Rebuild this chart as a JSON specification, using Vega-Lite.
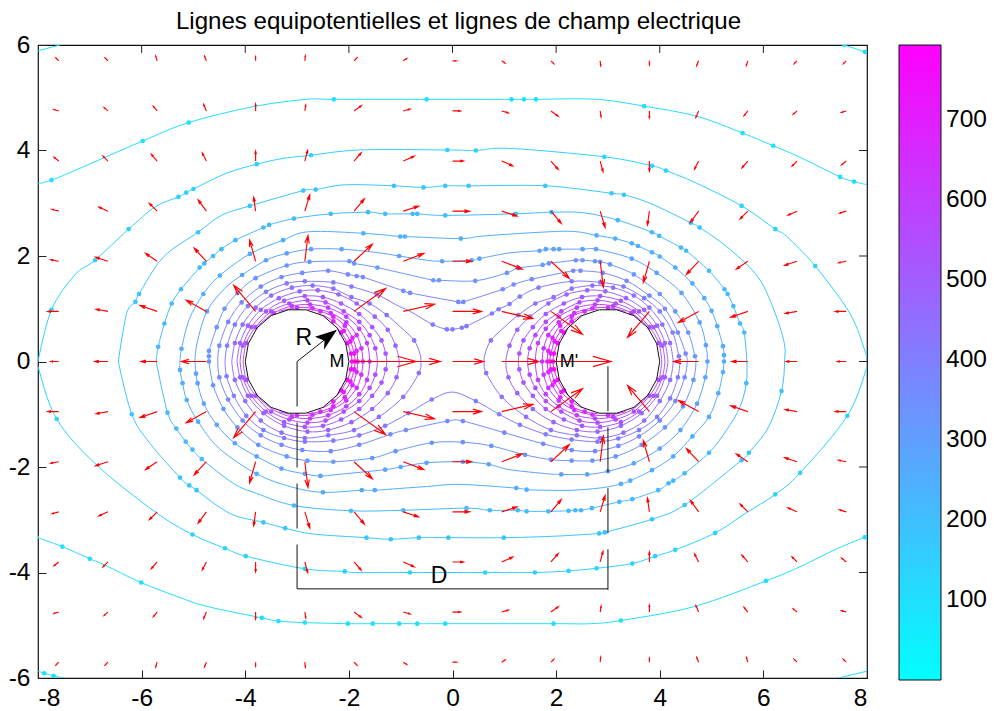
{"$schema":"https://vega.github.io/schema/vega-lite/v6.json","background":"white","width":829,"height":633,"autosize":"none","padding":{"left":38,"top":45,"right":127,"bottom":33},
"config":{"font":"Liberation Sans","view":{"stroke":"#111111","strokeWidth":1.2},"axis":{"labelFont":"Liberation Sans","labelFontSize":24.5,"labelColor":"black","tickColor":"#222222","tickSize":-8,"domain":false,"grid":false,"title":null,"labelPadding":16}},
"title":{"text":"Lignes equipotentielles et lignes de champ electrique","font":"Liberation Sans","fontSize":24.1,"fontWeight":"normal","color":"black","offset":-2,"dx":6,"anchor":"middle"},
"datasets":{
"contours":[
{"v":100,"x":-8.03,"y":3.36},{"v":100,"x":-7.74,"y":3.44,"d":1},{"v":100,"x":-7.29,"y":3.62},{"v":100,"x":-5.98,"y":4.18,"d":1},{"v":100,"x":-5.09,"y":4.53,"d":1},{"v":100,"x":-3.85,"y":4.83},{"v":100,"x":-2.82,"y":4.97},{"v":100,"x":-2.29,"y":4.97,"d":1},{"v":100,"x":-0.5,"y":4.97,"d":1},{"v":100,"x":1.14,"y":4.97,"d":1},{"v":100,"x":1.38,"y":4.97,"d":1},{"v":100,"x":1.61,"y":4.97,"d":1},{"v":100,"x":2.78,"y":4.97},{"v":100,"x":3.7,"y":4.84,"d":1},{"v":100,"x":4.71,"y":4.65},{"v":100,"x":5.6,"y":4.33,"d":1},{"v":100,"x":6.19,"y":4.09,"d":1},{"v":100,"x":6.71,"y":3.87},{"v":100,"x":7.48,"y":3.5,"d":1},{"v":100,"x":7.75,"y":3.41,"d":1},{"v":100,"x":8.01,"y":3.35},
{"v":100.1,"x":-8.03,"y":-3.33,"d":1},{"v":100.1,"x":-7.53,"y":-3.51,"d":1},{"v":100.1,"x":-7,"y":-3.74,"d":1},{"v":100.1,"x":-6.71,"y":-3.86},{"v":100.1,"x":-6.01,"y":-4.19,"d":1},{"v":100.1,"x":-5.33,"y":-4.45},{"v":100.1,"x":-4.75,"y":-4.64},{"v":100.1,"x":-3.68,"y":-4.86,"d":1},{"v":100.1,"x":-3.36,"y":-4.92,"d":1},{"v":100.1,"x":-2.85,"y":-4.95,"d":1},{"v":100.1,"x":-2.02,"y":-4.97,"d":1},{"v":100.1,"x":-1.54,"y":-4.97,"d":1},{"v":100.1,"x":-1.03,"y":-4.97,"d":1},{"v":100.1,"x":-0.68,"y":-4.97,"d":1},{"v":100.1,"x":-0.14,"y":-4.97,"d":1},{"v":100.1,"x":1.95,"y":-4.97,"d":1},{"v":100.1,"x":2.66,"y":-4.97},{"v":100.1,"x":3.25,"y":-4.91,"d":1},{"v":100.1,"x":4.65,"y":-4.65},{"v":100.1,"x":6.05,"y":-4.16,"d":1},{"v":100.1,"x":6.71,"y":-3.89},{"v":100.1,"x":7.42,"y":-3.55},{"v":100.1,"x":7.96,"y":-3.33,"d":1},
{"v":100.2,"x":-8,"y":5.89},{"v":100.2,"x":-7.58,"y":6},
{"v":100.3,"x":7.56,"y":6,"d":1},{"v":100.3,"x":7.96,"y":5.87,"d":1},
{"v":100.4,"x":-8,"y":-5.87},{"v":100.4,"x":-7.88,"y":-5.91,"d":1},{"v":100.4,"x":-7.7,"y":-5.96,"d":1},{"v":100.4,"x":-7.5,"y":-6},
{"v":100.5,"x":7.45,"y":-6},{"v":100.5,"x":8,"y":-5.87},
{"v":138,"x":-8,"y":0},{"v":138,"x":-7.74,"y":0.98,"d":1},{"v":138,"x":-7.29,"y":1.64},{"v":138,"x":-6.9,"y":1.92,"d":1},{"v":138,"x":-6.25,"y":2.51,"d":1},{"v":138,"x":-5.74,"y":2.93},{"v":138,"x":-5.29,"y":3.12,"d":1},{"v":138,"x":-5.14,"y":3.2,"d":1},{"v":138,"x":-5,"y":3.27,"d":1},{"v":138,"x":-4.36,"y":3.57},{"v":138,"x":-3.78,"y":3.74,"d":1},{"v":138,"x":-3.27,"y":3.85},{"v":138,"x":-2.73,"y":3.91,"d":1},{"v":138,"x":-1.79,"y":4.01},{"v":138,"x":-0.1,"y":4.01,"d":1},{"v":138,"x":0.45,"y":4,"d":1},{"v":138,"x":1.11,"y":4.04},{"v":138,"x":2.93,"y":3.88,"d":1},{"v":138,"x":3.85,"y":3.71,"d":1},{"v":138,"x":4.12,"y":3.62,"d":1},{"v":138,"x":4.71,"y":3.38},{"v":138,"x":5.58,"y":2.95,"d":1},{"v":138,"x":6.23,"y":2.51,"d":1},{"v":138,"x":6.45,"y":2.37},{"v":138,"x":7,"y":1.81,"d":1},{"v":138,"x":7.67,"y":0.91},{"v":138,"x":7.96,"y":0.2},{"v":138,"x":8,"y":0},{"v":138,"x":8,"y":-0.1},{"v":138,"x":7.62,"y":-1.03,"d":1},{"v":138,"x":6.71,"y":-2.11,"d":1},{"v":138,"x":6.23,"y":-2.52,"d":1},{"v":138,"x":5.65,"y":-2.88},{"v":138,"x":5.07,"y":-3.25,"d":1},{"v":138,"x":4.3,"y":-3.57,"d":1},{"v":138,"x":3.91,"y":-3.69,"d":1},{"v":138,"x":3.47,"y":-3.83,"d":1},{"v":138,"x":2.78,"y":-3.92,"d":1},{"v":138,"x":2.24,"y":-3.97,"d":1},{"v":138,"x":1.59,"y":-4,"d":1},{"v":138,"x":0.63,"y":-4,"d":1},{"v":138,"x":-0.82,"y":-4,"d":1},{"v":138,"x":-1.88,"y":-4},{"v":138,"x":-2.08,"y":-3.98,"d":1},{"v":138,"x":-2.85,"y":-3.93,"d":1},{"v":138,"x":-3.99,"y":-3.69,"d":1},{"v":138,"x":-4.39,"y":-3.54,"d":1},{"v":138,"x":-5.02,"y":-3.28,"d":1},{"v":138,"x":-5.74,"y":-2.85},{"v":138,"x":-6.87,"y":-1.96},{"v":138,"x":-7.64,"y":-1.09,"d":1},{"v":138,"x":-8,"y":-0.1},{"v":138,"x":-8,"y":0},
{"v":176,"x":-6.45,"y":0},{"v":176,"x":-6.29,"y":0.91},{"v":176,"x":-6.12,"y":1.13,"d":1},{"v":176,"x":-6.05,"y":1.28,"d":1},{"v":176,"x":-5.58,"y":1.98},{"v":176,"x":-4.91,"y":2.45,"d":1},{"v":176,"x":-4.46,"y":2.77},{"v":176,"x":-3.91,"y":2.95,"d":1},{"v":176,"x":-2.88,"y":3.24,"d":1},{"v":176,"x":-2.64,"y":3.26,"d":1},{"v":176,"x":-2.07,"y":3.35},{"v":176,"x":-1.13,"y":3.33,"d":1},{"v":176,"x":-0.56,"y":3.3,"d":1},{"v":176,"x":-0.14,"y":3.33,"d":1},{"v":176,"x":0.31,"y":3.33,"d":1},{"v":176,"x":1.79,"y":3.33,"d":1},{"v":176,"x":3.07,"y":3.19,"d":1},{"v":176,"x":3.31,"y":3.16,"d":1},{"v":176,"x":3.81,"y":3},{"v":176,"x":4.6,"y":2.63,"d":1},{"v":176,"x":4.77,"y":2.54,"d":1},{"v":176,"x":5.29,"y":2.18},{"v":176,"x":5.84,"y":1.67},{"v":176,"x":6.13,"y":1.16},{"v":176,"x":6.39,"y":0.41},{"v":176,"x":6.41,"y":0},{"v":176,"x":6.35,"y":-0.56,"d":1},{"v":176,"x":6.1,"y":-1.24},{"v":176,"x":5.72,"y":-1.73,"d":1},{"v":176,"x":5.58,"y":-1.87,"d":1},{"v":176,"x":4.48,"y":-2.72,"d":1},{"v":176,"x":3.85,"y":-2.99,"d":1},{"v":176,"x":2.94,"y":-3.24,"d":1},{"v":176,"x":2.83,"y":-3.26,"d":1},{"v":176,"x":2.01,"y":-3.31},{"v":176,"x":0.99,"y":-3.34,"d":1},{"v":176,"x":-0.08,"y":-3.34,"d":1},{"v":176,"x":-0.65,"y":-3.34,"d":1},{"v":176,"x":-1.19,"y":-3.37,"d":1},{"v":176,"x":-1.66,"y":-3.34,"d":1},{"v":176,"x":-2.69,"y":-3.27},{"v":176,"x":-3.23,"y":-3.16,"d":1},{"v":176,"x":-3.65,"y":-3.05,"d":1},{"v":176,"x":-4.3,"y":-2.88},{"v":176,"x":-4.94,"y":-2.44,"d":1},{"v":176,"x":-5.08,"y":-2.35,"d":1},{"v":176,"x":-5.26,"y":-2.2,"d":1},{"v":176,"x":-5.84,"y":-1.55},{"v":176,"x":-6.19,"y":-1,"d":1},{"v":176,"x":-6.45,"y":0},
{"v":214,"x":-5.72,"y":0},{"v":214,"x":-5.68,"y":0.28,"d":1},{"v":214,"x":-5.56,"y":0.72,"d":1},{"v":214,"x":-5.42,"y":1.1,"d":1},{"v":214,"x":-5.24,"y":1.37,"d":1},{"v":214,"x":-4.88,"y":1.78,"d":1},{"v":214,"x":-4.79,"y":1.86,"d":1},{"v":214,"x":-4.62,"y":2,"d":1},{"v":214,"x":-4.46,"y":2.13,"d":1},{"v":214,"x":-4.19,"y":2.3,"d":1},{"v":214,"x":-3.65,"y":2.54,"d":1},{"v":214,"x":-3.54,"y":2.59,"d":1},{"v":214,"x":-3.06,"y":2.71,"d":1},{"v":214,"x":-2.35,"y":2.8,"d":1},{"v":214,"x":-1.63,"y":2.83,"d":1},{"v":214,"x":-1.3,"y":2.8,"d":1},{"v":214,"x":-0.77,"y":2.8,"d":1},{"v":214,"x":-0.68,"y":2.8,"d":1},{"v":214,"x":-0.14,"y":2.77,"d":1},{"v":214,"x":1.22,"y":2.8,"d":1},{"v":214,"x":1.91,"y":2.83,"d":1},{"v":214,"x":2.53,"y":2.82},{"v":214,"x":3.19,"y":2.68,"d":1},{"v":214,"x":3.85,"y":2.45,"d":1},{"v":214,"x":3.99,"y":2.38,"d":1},{"v":214,"x":4.41,"y":2.16,"d":1},{"v":214,"x":4.51,"y":2.1,"d":1},{"v":214,"x":4.95,"y":1.72,"d":1},{"v":214,"x":5.25,"y":1.37,"d":1},{"v":214,"x":5.31,"y":1.28,"d":1},{"v":214,"x":5.42,"y":1.05,"d":1},{"v":214,"x":5.55,"y":0.72,"d":1},{"v":214,"x":5.63,"y":0.55,"d":1},{"v":214,"x":5.68,"y":0},{"v":214,"x":5.67,"y":-0.41,"d":1},{"v":214,"x":5.55,"y":-0.86},{"v":214,"x":5.29,"y":-1.3},{"v":214,"x":4.95,"y":-1.73,"d":1},{"v":214,"x":4.48,"y":-2.12,"d":1},{"v":214,"x":4.26,"y":-2.26,"d":1},{"v":214,"x":4.17,"y":-2.31,"d":1},{"v":214,"x":3.97,"y":-2.44,"d":1},{"v":214,"x":3.47,"y":-2.61,"d":1},{"v":214,"x":3.22,"y":-2.66,"d":1},{"v":214,"x":2.69,"y":-2.78,"d":1},{"v":214,"x":2.48,"y":-2.82,"d":1},{"v":214,"x":2.37,"y":-2.82,"d":1},{"v":214,"x":2.24,"y":-2.83,"d":1},{"v":214,"x":1.85,"y":-2.84,"d":1},{"v":214,"x":1.43,"y":-2.84,"d":1},{"v":214,"x":1.26,"y":-2.82,"d":1},{"v":214,"x":0.72,"y":-2.82,"d":1},{"v":214,"x":0.27,"y":-2.78,"d":1},{"v":214,"x":-0.95,"y":-2.82,"d":1},{"v":214,"x":-1.96,"y":-2.83,"d":1},{"v":214,"x":-3.06,"y":-2.73,"d":1},{"v":214,"x":-3.78,"y":-2.5},{"v":214,"x":-4.23,"y":-2.31},{"v":214,"x":-4.84,"y":-1.85,"d":1},{"v":214,"x":-5.02,"y":-1.67,"d":1},{"v":214,"x":-5.15,"y":-1.52,"d":1},{"v":214,"x":-5.33,"y":-1.27,"d":1},{"v":214,"x":-5.5,"y":-0.97,"d":1},{"v":214,"x":-5.72,"y":0},
{"v":252,"x":-5.26,"y":0},{"v":252,"x":-5.23,"y":0.24,"d":1},{"v":252,"x":-5.08,"y":0.8},{"v":252,"x":-4.81,"y":1.28,"d":1},{"v":252,"x":-4.49,"y":1.63,"d":1},{"v":252,"x":-3.91,"y":2.04,"d":1},{"v":252,"x":-3.27,"y":2.3,"d":1},{"v":252,"x":-2.78,"y":2.46},{"v":252,"x":-1.72,"y":2.43,"d":1},{"v":252,"x":-1.01,"y":2.37,"d":1},{"v":252,"x":-0.92,"y":2.37,"d":1},{"v":252,"x":0.16,"y":2.33,"d":1},{"v":252,"x":0.6,"y":2.38},{"v":252,"x":1.88,"y":2.46},{"v":252,"x":2.4,"y":2.46},{"v":252,"x":2.78,"y":2.39,"d":1},{"v":252,"x":3.14,"y":2.33,"d":1},{"v":252,"x":3.46,"y":2.24,"d":1},{"v":252,"x":3.58,"y":2.19,"d":1},{"v":252,"x":3.85,"y":2.07,"d":1},{"v":252,"x":4,"y":1.99,"d":1},{"v":252,"x":4.3,"y":1.78,"d":1},{"v":252,"x":4.63,"y":1.48,"d":1},{"v":252,"x":4.86,"y":1.2,"d":1},{"v":252,"x":5,"y":0.96,"d":1},{"v":252,"x":5.11,"y":0.67,"d":1},{"v":252,"x":5.22,"y":0.29,"d":1},{"v":252,"x":5.24,"y":0.12,"d":1},{"v":252,"x":5.24,"y":0,"d":1},{"v":252,"x":5.22,"y":-0.2,"d":1},{"v":252,"x":5.13,"y":-0.6,"d":1},{"v":252,"x":4.95,"y":-1.05,"d":1},{"v":252,"x":4.63,"y":-1.42,"d":1},{"v":252,"x":4.26,"y":-1.8,"d":1},{"v":252,"x":3.85,"y":-2.06,"d":1},{"v":252,"x":3.43,"y":-2.26,"d":1},{"v":252,"x":3.25,"y":-2.32,"d":1},{"v":252,"x":2.91,"y":-2.39},{"v":252,"x":2.33,"y":-2.44},{"v":252,"x":1.82,"y":-2.44},{"v":252,"x":1.43,"y":-2.43,"d":1},{"v":252,"x":1.23,"y":-2.4,"d":1},{"v":252,"x":0.14,"y":-2.33},{"v":252,"x":-0.5,"y":-2.37},{"v":252,"x":-1.5,"y":-2.44,"d":1},{"v":252,"x":-1.75,"y":-2.44,"d":1},{"v":252,"x":-2.5,"y":-2.48,"d":1},{"v":252,"x":-3.1,"y":-2.38},{"v":252,"x":-3.78,"y":-2.13,"d":1},{"v":252,"x":-4.5,"y":-1.65},{"v":252,"x":-4.91,"y":-1.14,"d":1},{"v":252,"x":-5.13,"y":-0.73,"d":1},{"v":252,"x":-5.21,"y":-0.41,"d":1},{"v":252,"x":-5.26,"y":-0.16,"d":1},{"v":252,"x":-5.26,"y":0},
{"v":290,"x":-4.97,"y":0},{"v":290,"x":-4.93,"y":0.35},{"v":290,"x":-4.74,"y":0.95,"d":1},{"v":290,"x":-4.4,"y":1.38},{"v":290,"x":-4.06,"y":1.64,"d":1},{"v":290,"x":-3.6,"y":1.92,"d":1},{"v":290,"x":-3.2,"y":2.05,"d":1},{"v":290,"x":-2.73,"y":2.13,"d":1},{"v":290,"x":-2.14,"y":2.13,"d":1},{"v":290,"x":-1.5,"y":2.07},{"v":290,"x":-1.03,"y":2,"d":1},{"v":290,"x":-0.5,"y":1.92},{"v":290,"x":-0.2,"y":1.9,"d":1},{"v":290,"x":0.37,"y":1.92,"d":1},{"v":290,"x":0.52,"y":1.95,"d":1},{"v":290,"x":1.11,"y":2.06},{"v":290,"x":1.68,"y":2.1,"d":1},{"v":290,"x":1.8,"y":2.13,"d":1},{"v":290,"x":1.95,"y":2.13,"d":1},{"v":290,"x":2.06,"y":2.13,"d":1},{"v":290,"x":2.51,"y":2.13,"d":1},{"v":290,"x":2.77,"y":2.13,"d":1},{"v":290,"x":3.46,"y":1.95,"d":1},{"v":290,"x":3.94,"y":1.68,"d":1},{"v":290,"x":4.42,"y":1.3,"d":1},{"v":290,"x":4.77,"y":0.74,"d":1},{"v":290,"x":4.89,"y":0.31,"d":1},{"v":290,"x":4.92,"y":0,"d":1},{"v":290,"x":4.88,"y":-0.3,"d":1},{"v":290,"x":4.72,"y":-0.8,"d":1},{"v":290,"x":4.4,"y":-1.3,"d":1},{"v":290,"x":4,"y":-1.65,"d":1},{"v":290,"x":3.5,"y":-1.93,"d":1},{"v":290,"x":3,"y":-2.08,"d":1},{"v":290,"x":2.6,"y":-2.14,"d":1},{"v":290,"x":2.1,"y":-2.14,"d":1},{"v":290,"x":1.85,"y":-2.13},{"v":290,"x":1.1,"y":-2.05},{"v":290,"x":0.7,"y":-1.95,"d":1},{"v":290,"x":0.2,"y":-1.9,"d":1},{"v":290,"x":-0.5,"y":-1.92,"d":1},{"v":290,"x":-1,"y":-2,"d":1},{"v":290,"x":-1.3,"y":-2.05,"d":1},{"v":290,"x":-2.2,"y":-2.14},{"v":290,"x":-2.55,"y":-2.17,"d":1},{"v":290,"x":-2.85,"y":-2.13,"d":1},{"v":290,"x":-3.3,"y":-2.03,"d":1},{"v":290,"x":-3.78,"y":-1.8,"d":1},{"v":290,"x":-4.2,"y":-1.55,"d":1},{"v":290,"x":-4.55,"y":-1.2,"d":1},{"v":290,"x":-4.8,"y":-0.8,"d":1},{"v":290,"x":-4.92,"y":-0.41,"d":1},{"v":290,"x":-4.95,"y":-0.23,"d":1},{"v":290,"x":-4.97,"y":0},
{"v":328,"x":-4.7,"y":0,"d":1},{"v":328,"x":-4.7,"y":0.1,"d":1},{"v":328,"x":-4.7,"y":0.2,"d":1},{"v":328,"x":-4.55,"y":0.65,"d":1},{"v":328,"x":-4.4,"y":1,"d":1},{"v":328,"x":-4.15,"y":1.3,"d":1},{"v":328,"x":-3.8,"y":1.58,"d":1},{"v":328,"x":-3.2,"y":1.82,"d":1},{"v":328,"x":-2.76,"y":1.89,"d":1},{"v":328,"x":-1.99,"y":1.9,"d":1},{"v":328,"x":-1.9,"y":1.86,"d":1},{"v":328,"x":-1.45,"y":1.78,"d":1},{"v":328,"x":-0.37,"y":1.54,"d":1},{"v":328,"x":-0.26,"y":1.54,"d":1},{"v":328,"x":0.44,"y":1.53,"d":1},{"v":328,"x":1.05,"y":1.68,"d":1},{"v":328,"x":1.27,"y":1.77,"d":1},{"v":328,"x":1.74,"y":1.83,"d":1},{"v":328,"x":1.86,"y":1.86,"d":1},{"v":328,"x":2.38,"y":1.92,"d":1},{"v":328,"x":2.51,"y":1.92,"d":1},{"v":328,"x":2.75,"y":1.9,"d":1},{"v":328,"x":2.85,"y":1.89,"d":1},{"v":328,"x":3.04,"y":1.84,"d":1},{"v":328,"x":3.5,"y":1.65,"d":1},{"v":328,"x":4,"y":1.28,"d":1},{"v":328,"x":4.3,"y":0.95,"d":1},{"v":328,"x":4.55,"y":0.55,"d":1},{"v":328,"x":4.68,"y":0.1,"d":1},{"v":328,"x":4.7,"y":0},{"v":328,"x":4.65,"y":-0.35,"d":1},{"v":328,"x":4.45,"y":-0.85,"d":1},{"v":328,"x":4.1,"y":-1.25,"d":1},{"v":328,"x":3.65,"y":-1.58,"d":1},{"v":328,"x":3.15,"y":-1.8,"d":1},{"v":328,"x":2.7,"y":-1.88,"d":1},{"v":328,"x":2.3,"y":-1.88,"d":1},{"v":328,"x":1.9,"y":-1.86,"d":1},{"v":328,"x":1.4,"y":-1.77,"d":1},{"v":328,"x":0.75,"y":-1.6,"d":1},{"v":328,"x":0.2,"y":-1.53,"d":1},{"v":328,"x":-0.4,"y":-1.54,"d":1},{"v":328,"x":-1.1,"y":-1.7,"d":1},{"v":328,"x":-1.55,"y":-1.83,"d":1},{"v":328,"x":-2.3,"y":-1.9,"d":1},{"v":328,"x":-2.8,"y":-1.88,"d":1},{"v":328,"x":-3.2,"y":-1.8,"d":1},{"v":328,"x":-3.75,"y":-1.58,"d":1},{"v":328,"x":-4.15,"y":-1.25,"d":1},{"v":328,"x":-4.42,"y":-0.9,"d":1},{"v":328,"x":-4.62,"y":-0.45,"d":1},{"v":328,"x":-4.7,"y":0},
{"v":366,"x":-4.53,"y":0},{"v":366,"x":-4.5,"y":0.3,"d":1},{"v":366,"x":-4.33,"y":0.75,"d":1},{"v":366,"x":-4.07,"y":1.12,"d":1},{"v":366,"x":-3.7,"y":1.42,"d":1},{"v":366,"x":-3.3,"y":1.6,"d":1},{"v":366,"x":-2.9,"y":1.68,"d":1},{"v":366,"x":-2.4,"y":1.72,"d":1},{"v":366,"x":-2.02,"y":1.65,"d":1},{"v":366,"x":-1.85,"y":1.62,"d":1},{"v":366,"x":-1.73,"y":1.6,"d":1},{"v":366,"x":-0.95,"y":1.34,"d":1},{"v":366,"x":-0.82,"y":1.3,"d":1},{"v":366,"x":0.11,"y":1.13,"d":1},{"v":366,"x":0.21,"y":1.13,"d":1},{"v":366,"x":0.97,"y":1.37,"d":1},{"v":366,"x":1.18,"y":1.46,"d":1},{"v":366,"x":1.53,"y":1.56,"d":1},{"v":366,"x":2.33,"y":1.72,"d":1},{"v":366,"x":2.47,"y":1.72,"d":1},{"v":366,"x":2.9,"y":1.68,"d":1},{"v":366,"x":3.36,"y":1.53,"d":1},{"v":366,"x":3.8,"y":1.25,"d":1},{"v":366,"x":4.1,"y":1,"d":1},{"v":366,"x":4.35,"y":0.55,"d":1},{"v":366,"x":4.5,"y":0.15,"d":1},{"v":366,"x":4.53,"y":0},{"v":366,"x":4.48,"y":-0.3,"d":1},{"v":366,"x":4.3,"y":-0.75,"d":1},{"v":366,"x":4,"y":-1.12,"d":1},{"v":366,"x":3.6,"y":-1.42,"d":1},{"v":366,"x":3.2,"y":-1.6,"d":1},{"v":366,"x":2.75,"y":-1.7,"d":1},{"v":366,"x":2.3,"y":-1.68,"d":1},{"v":366,"x":1.75,"y":-1.56,"d":1},{"v":366,"x":1,"y":-1.35,"d":1},{"v":366,"x":0.2,"y":-1.13,"d":1},{"v":366,"x":-0.1,"y":-1.13,"d":1},{"v":366,"x":-0.9,"y":-1.3,"d":1},{"v":366,"x":-1.2,"y":-1.38,"d":1},{"v":366,"x":-1.8,"y":-1.58,"d":1},{"v":366,"x":-2.35,"y":-1.7,"d":1},{"v":366,"x":-2.9,"y":-1.68,"d":1},{"v":366,"x":-3.3,"y":-1.58,"d":1},{"v":366,"x":-3.7,"y":-1.4,"d":1},{"v":366,"x":-4.05,"y":-1.12,"d":1},{"v":366,"x":-4.33,"y":-0.72,"d":1},{"v":366,"x":-4.5,"y":-0.3,"d":1},{"v":366,"x":-4.53,"y":0},
{"v":404,"x":-4.39,"y":0},{"v":404,"x":-4.35,"y":0.3,"d":1},{"v":404,"x":-4.2,"y":0.7,"d":1},{"v":404,"x":-3.95,"y":1.05,"d":1},{"v":404,"x":-3.6,"y":1.32,"d":1},{"v":404,"x":-3.2,"y":1.48,"d":1},{"v":404,"x":-2.85,"y":1.52,"d":1},{"v":404,"x":-2.3,"y":1.5,"d":1},{"v":404,"x":-1.95,"y":1.42,"d":1},{"v":404,"x":-1.46,"y":1.27,"d":1},{"v":404,"x":-1.1,"y":1.08},{"v":404,"x":-0.82,"y":0.95},{"v":404,"x":-0.38,"y":0.7,"d":1},{"v":404,"x":-0.11,"y":0.61,"d":1},{"v":404,"x":0,"y":0.61,"d":1},{"v":404,"x":0.18,"y":0.64,"d":1},{"v":404,"x":0.27,"y":0.67,"d":1},{"v":404,"x":0.76,"y":0.91,"d":1},{"v":404,"x":0.89,"y":0.99,"d":1},{"v":404,"x":1.1,"y":1.09,"d":1},{"v":404,"x":1.3,"y":1.23,"d":1},{"v":404,"x":1.66,"y":1.4,"d":1},{"v":404,"x":2.3,"y":1.52,"d":1},{"v":404,"x":2.85,"y":1.5,"d":1},{"v":404,"x":3.3,"y":1.42,"d":1},{"v":404,"x":3.7,"y":1.2,"d":1},{"v":404,"x":4,"y":0.95,"d":1},{"v":404,"x":4.25,"y":0.55,"d":1},{"v":404,"x":4.37,"y":0.1,"d":1},{"v":404,"x":4.39,"y":0},{"v":404,"x":4.35,"y":-0.3,"d":1},{"v":404,"x":4.2,"y":-0.7,"d":1},{"v":404,"x":3.95,"y":-1.05,"d":1},{"v":404,"x":3.6,"y":-1.3,"d":1},{"v":404,"x":3.2,"y":-1.46,"d":1},{"v":404,"x":2.8,"y":-1.52,"d":1},{"v":404,"x":2.3,"y":-1.48,"d":1},{"v":404,"x":1.8,"y":-1.38,"d":1},{"v":404,"x":1.3,"y":-1.2,"d":1},{"v":404,"x":0.9,"y":-1,"d":1},{"v":404,"x":0.45,"y":-0.75,"d":1},{"v":404,"x":0,"y":-0.58},{"v":404,"x":-0.4,"y":-0.72,"d":1},{"v":404,"x":-0.85,"y":-0.98,"d":1},{"v":404,"x":-1.3,"y":-1.22,"d":1},{"v":404,"x":-1.8,"y":-1.4,"d":1},{"v":404,"x":-2.3,"y":-1.5,"d":1},{"v":404,"x":-2.85,"y":-1.52,"d":1},{"v":404,"x":-3.25,"y":-1.45,"d":1},{"v":404,"x":-3.65,"y":-1.3,"d":1},{"v":404,"x":-3.98,"y":-1.03,"d":1},{"v":404,"x":-4.22,"y":-0.65,"d":1},{"v":404,"x":-4.36,"y":-0.28,"d":1},{"v":404,"x":-4.39,"y":0},
{"v":442,"x":-4.26,"y":0},{"v":442,"x":-4.2,"y":0.35,"d":1},{"v":442,"x":-4.05,"y":0.7,"d":1},{"v":442,"x":-3.8,"y":1.02,"d":1},{"v":442,"x":-3.5,"y":1.25,"d":1},{"v":442,"x":-3.1,"y":1.4,"d":1},{"v":442,"x":-2.7,"y":1.44,"d":1},{"v":442,"x":-2.3,"y":1.38,"d":1},{"v":442,"x":-1.95,"y":1.22,"d":1},{"v":442,"x":-1.6,"y":1.1,"d":1},{"v":442,"x":-1.27,"y":0.88,"d":1},{"v":442,"x":-1,"y":0.65},{"v":442,"x":-0.74,"y":0.4,"d":1},{"v":442,"x":-0.63,"y":0.15},{"v":442,"x":-0.61,"y":0},{"v":442,"x":-0.65,"y":-0.22,"d":1},{"v":442,"x":-0.95,"y":-0.67,"d":1},{"v":442,"x":-1.42,"y":-1.05,"d":1},{"v":442,"x":-1.9,"y":-1.3,"d":1},{"v":442,"x":-2.4,"y":-1.4,"d":1},{"v":442,"x":-2.85,"y":-1.45,"d":1},{"v":442,"x":-3.3,"y":-1.35,"d":1},{"v":442,"x":-3.7,"y":-1.12,"d":1},{"v":442,"x":-4,"y":-0.75,"d":1},{"v":442,"x":-4.2,"y":-0.35,"d":1},{"v":442,"x":-4.26,"y":0},
{"v":442.1,"x":4.26,"y":0},{"v":442.1,"x":4.2,"y":0.35,"d":1},{"v":442.1,"x":4.05,"y":0.7,"d":1},{"v":442.1,"x":3.8,"y":1.02,"d":1},{"v":442.1,"x":3.5,"y":1.25,"d":1},{"v":442.1,"x":3.1,"y":1.4,"d":1},{"v":442.1,"x":2.7,"y":1.44,"d":1},{"v":442.1,"x":2.3,"y":1.38,"d":1},{"v":442.1,"x":1.95,"y":1.22,"d":1},{"v":442.1,"x":1.6,"y":1.1,"d":1},{"v":442.1,"x":1.27,"y":0.88,"d":1},{"v":442.1,"x":1,"y":0.65},{"v":442.1,"x":0.74,"y":0.4,"d":1},{"v":442.1,"x":0.63,"y":0.15},{"v":442.1,"x":0.61,"y":0},{"v":442.1,"x":0.65,"y":-0.22,"d":1},{"v":442.1,"x":0.95,"y":-0.67,"d":1},{"v":442.1,"x":1.42,"y":-1.05,"d":1},{"v":442.1,"x":1.9,"y":-1.3,"d":1},{"v":442.1,"x":2.4,"y":-1.4,"d":1},{"v":442.1,"x":2.85,"y":-1.45,"d":1},{"v":442.1,"x":3.3,"y":-1.35,"d":1},{"v":442.1,"x":3.7,"y":-1.12,"d":1},{"v":442.1,"x":4,"y":-0.75,"d":1},{"v":442.1,"x":4.2,"y":-0.35,"d":1},{"v":442.1,"x":4.26,"y":0},
{"v":480,"x":-4.16,"y":0},{"v":480,"x":-4.1,"y":0.35,"d":1},{"v":480,"x":-3.95,"y":0.68,"d":1},{"v":480,"x":-3.7,"y":0.98,"d":1},{"v":480,"x":-3.35,"y":1.2,"d":1},{"v":480,"x":-2.95,"y":1.33,"d":1},{"v":480,"x":-2.6,"y":1.35,"d":1},{"v":480,"x":-2.2,"y":1.27,"d":1},{"v":480,"x":-1.85,"y":1.1,"d":1},{"v":480,"x":-1.5,"y":0.85,"d":1},{"v":480,"x":-1.25,"y":0.6,"d":1},{"v":480,"x":-1.1,"y":0.3,"d":1},{"v":480,"x":-1.03,"y":0},{"v":480,"x":-1.08,"y":-0.3,"d":1},{"v":480,"x":-1.25,"y":-0.6,"d":1},{"v":480,"x":-1.55,"y":-0.9,"d":1},{"v":480,"x":-1.95,"y":-1.15,"d":1},{"v":480,"x":-2.4,"y":-1.3,"d":1},{"v":480,"x":-2.8,"y":-1.33,"d":1},{"v":480,"x":-3.25,"y":-1.22,"d":1},{"v":480,"x":-3.65,"y":-0.98,"d":1},{"v":480,"x":-3.95,"y":-0.65,"d":1},{"v":480,"x":-4.1,"y":-0.3,"d":1},{"v":480,"x":-4.16,"y":0},
{"v":480.1,"x":4.16,"y":0},{"v":480.1,"x":4.1,"y":0.35,"d":1},{"v":480.1,"x":3.95,"y":0.68,"d":1},{"v":480.1,"x":3.7,"y":0.98,"d":1},{"v":480.1,"x":3.35,"y":1.2,"d":1},{"v":480.1,"x":2.95,"y":1.33,"d":1},{"v":480.1,"x":2.6,"y":1.35,"d":1},{"v":480.1,"x":2.2,"y":1.27,"d":1},{"v":480.1,"x":1.85,"y":1.1,"d":1},{"v":480.1,"x":1.5,"y":0.85,"d":1},{"v":480.1,"x":1.25,"y":0.6,"d":1},{"v":480.1,"x":1.1,"y":0.3,"d":1},{"v":480.1,"x":1.03,"y":0},{"v":480.1,"x":1.08,"y":-0.3,"d":1},{"v":480.1,"x":1.25,"y":-0.6,"d":1},{"v":480.1,"x":1.55,"y":-0.9,"d":1},{"v":480.1,"x":1.95,"y":-1.15,"d":1},{"v":480.1,"x":2.4,"y":-1.3,"d":1},{"v":480.1,"x":2.8,"y":-1.33,"d":1},{"v":480.1,"x":3.25,"y":-1.22,"d":1},{"v":480.1,"x":3.65,"y":-0.98,"d":1},{"v":480.1,"x":3.95,"y":-0.65,"d":1},{"v":480.1,"x":4.1,"y":-0.3,"d":1},{"v":480.1,"x":4.16,"y":0},
{"v":518,"x":-4.1,"y":0},{"v":518,"x":-4.05,"y":0.3,"d":1},{"v":518,"x":-3.88,"y":0.65,"d":1},{"v":518,"x":-3.6,"y":0.95,"d":1},{"v":518,"x":-3.25,"y":1.15,"d":1},{"v":518,"x":-2.85,"y":1.24,"d":1},{"v":518,"x":-2.5,"y":1.22,"d":1},{"v":518,"x":-2.15,"y":1.1,"d":1},{"v":518,"x":-1.8,"y":0.9,"d":1},{"v":518,"x":-1.55,"y":0.65,"d":1},{"v":518,"x":-1.37,"y":0.4,"d":1},{"v":518,"x":-1.29,"y":0.15,"d":1},{"v":518,"x":-1.27,"y":0},{"v":518,"x":-1.29,"y":-0.15,"d":1},{"v":518,"x":-1.37,"y":-0.4,"d":1},{"v":518,"x":-1.55,"y":-0.65,"d":1},{"v":518,"x":-1.8,"y":-0.9,"d":1},{"v":518,"x":-2.15,"y":-1.1,"d":1},{"v":518,"x":-2.5,"y":-1.22,"d":1},{"v":518,"x":-2.85,"y":-1.24,"d":1},{"v":518,"x":-3.25,"y":-1.15,"d":1},{"v":518,"x":-3.6,"y":-0.95,"d":1},{"v":518,"x":-3.88,"y":-0.65,"d":1},{"v":518,"x":-4.05,"y":-0.3,"d":1},{"v":518,"x":-4.1,"y":0},
{"v":518.1,"x":4.1,"y":0},{"v":518.1,"x":4.05,"y":0.3,"d":1},{"v":518.1,"x":3.88,"y":0.65,"d":1},{"v":518.1,"x":3.6,"y":0.95,"d":1},{"v":518.1,"x":3.25,"y":1.15,"d":1},{"v":518.1,"x":2.85,"y":1.24,"d":1},{"v":518.1,"x":2.5,"y":1.22,"d":1},{"v":518.1,"x":2.15,"y":1.1,"d":1},{"v":518.1,"x":1.8,"y":0.9,"d":1},{"v":518.1,"x":1.55,"y":0.65,"d":1},{"v":518.1,"x":1.37,"y":0.4,"d":1},{"v":518.1,"x":1.29,"y":0.15,"d":1},{"v":518.1,"x":1.27,"y":0},{"v":518.1,"x":1.29,"y":-0.15,"d":1},{"v":518.1,"x":1.37,"y":-0.4,"d":1},{"v":518.1,"x":1.55,"y":-0.65,"d":1},{"v":518.1,"x":1.8,"y":-0.9,"d":1},{"v":518.1,"x":2.15,"y":-1.1,"d":1},{"v":518.1,"x":2.5,"y":-1.22,"d":1},{"v":518.1,"x":2.85,"y":-1.24,"d":1},{"v":518.1,"x":3.25,"y":-1.15,"d":1},{"v":518.1,"x":3.6,"y":-0.95,"d":1},{"v":518.1,"x":3.88,"y":-0.65,"d":1},{"v":518.1,"x":4.05,"y":-0.3,"d":1},{"v":518.1,"x":4.1,"y":0},
{"v":556,"x":-4.04,"y":0},{"v":556,"x":-3.98,"y":0.35,"d":1},{"v":556,"x":-3.8,"y":0.65,"d":1},{"v":556,"x":-3.5,"y":0.95,"d":1},{"v":556,"x":-3.15,"y":1.1,"d":1},{"v":556,"x":-2.8,"y":1.16,"d":1},{"v":556,"x":-2.45,"y":1.12,"d":1},{"v":556,"x":-2.1,"y":0.95,"d":1},{"v":556,"x":-1.8,"y":0.75,"d":1},{"v":556,"x":-1.6,"y":0.5,"d":1},{"v":556,"x":-1.49,"y":0.25,"d":1},{"v":556,"x":-1.45,"y":0},{"v":556,"x":-1.49,"y":-0.25,"d":1},{"v":556,"x":-1.6,"y":-0.5,"d":1},{"v":556,"x":-1.8,"y":-0.75,"d":1},{"v":556,"x":-2.1,"y":-0.95,"d":1},{"v":556,"x":-2.45,"y":-1.12,"d":1},{"v":556,"x":-2.8,"y":-1.16,"d":1},{"v":556,"x":-3.15,"y":-1.1,"d":1},{"v":556,"x":-3.5,"y":-0.95,"d":1},{"v":556,"x":-3.8,"y":-0.65,"d":1},{"v":556,"x":-3.98,"y":-0.35,"d":1},{"v":556,"x":-4.04,"y":0},
{"v":556.1,"x":4.04,"y":0},{"v":556.1,"x":3.98,"y":0.35,"d":1},{"v":556.1,"x":3.8,"y":0.65,"d":1},{"v":556.1,"x":3.5,"y":0.95,"d":1},{"v":556.1,"x":3.15,"y":1.1,"d":1},{"v":556.1,"x":2.8,"y":1.16,"d":1},{"v":556.1,"x":2.45,"y":1.12,"d":1},{"v":556.1,"x":2.1,"y":0.95,"d":1},{"v":556.1,"x":1.8,"y":0.75,"d":1},{"v":556.1,"x":1.6,"y":0.5,"d":1},{"v":556.1,"x":1.49,"y":0.25,"d":1},{"v":556.1,"x":1.45,"y":0},{"v":556.1,"x":1.49,"y":-0.25,"d":1},{"v":556.1,"x":1.6,"y":-0.5,"d":1},{"v":556.1,"x":1.8,"y":-0.75,"d":1},{"v":556.1,"x":2.1,"y":-0.95,"d":1},{"v":556.1,"x":2.45,"y":-1.12,"d":1},{"v":556.1,"x":2.8,"y":-1.16,"d":1},{"v":556.1,"x":3.15,"y":-1.1,"d":1},{"v":556.1,"x":3.5,"y":-0.95,"d":1},{"v":556.1,"x":3.8,"y":-0.65,"d":1},{"v":556.1,"x":3.98,"y":-0.35,"d":1},{"v":556.1,"x":4.04,"y":0},
{"v":594,"x":-3.75,"y":0.68},{"v":594,"x":-3.45,"y":0.92,"d":1},{"v":594,"x":-3.1,"y":1.05,"d":1},{"v":594,"x":-2.75,"y":1.08,"d":1},{"v":594,"x":-2.4,"y":1.02,"d":1},{"v":594,"x":-2.05,"y":0.85,"d":1},{"v":594,"x":-1.8,"y":0.62,"d":1},{"v":594,"x":-1.65,"y":0.35,"d":1},{"v":594,"x":-1.6,"y":0,"d":1},{"v":594,"x":-1.65,"y":-0.35,"d":1},{"v":594,"x":-1.8,"y":-0.62,"d":1},{"v":594,"x":-2.05,"y":-0.85,"d":1},{"v":594,"x":-2.4,"y":-1.02,"d":1},{"v":594,"x":-2.75,"y":-1.08,"d":1},{"v":594,"x":-3.1,"y":-1.05,"d":1},{"v":594,"x":-3.45,"y":-0.92},{"v":594,"x":-3.75,"y":-0.68},
{"v":594.1,"x":3.75,"y":0.68},{"v":594.1,"x":3.45,"y":0.92,"d":1},{"v":594.1,"x":3.1,"y":1.05,"d":1},{"v":594.1,"x":2.75,"y":1.08,"d":1},{"v":594.1,"x":2.4,"y":1.02,"d":1},{"v":594.1,"x":2.05,"y":0.85,"d":1},{"v":594.1,"x":1.8,"y":0.62,"d":1},{"v":594.1,"x":1.65,"y":0.35,"d":1},{"v":594.1,"x":1.6,"y":0,"d":1},{"v":594.1,"x":1.65,"y":-0.35,"d":1},{"v":594.1,"x":1.8,"y":-0.62,"d":1},{"v":594.1,"x":2.05,"y":-0.85,"d":1},{"v":594.1,"x":2.4,"y":-1.02,"d":1},{"v":594.1,"x":2.75,"y":-1.08,"d":1},{"v":594.1,"x":3.1,"y":-1.05,"d":1},{"v":594.1,"x":3.45,"y":-0.92},{"v":594.1,"x":3.75,"y":-0.68},
{"v":632,"x":-3.35,"y":0.95},{"v":632,"x":-3,"y":1.02,"d":1},{"v":632,"x":-2.7,"y":1.01,"d":1},{"v":632,"x":-2.35,"y":0.92,"d":1},{"v":632,"x":-2.05,"y":0.74,"d":1},{"v":632,"x":-1.85,"y":0.5,"d":1},{"v":632,"x":-1.76,"y":0.25,"d":1},{"v":632,"x":-1.73,"y":0,"d":1},{"v":632,"x":-1.76,"y":-0.25,"d":1},{"v":632,"x":-1.85,"y":-0.5,"d":1},{"v":632,"x":-2.05,"y":-0.74,"d":1},{"v":632,"x":-2.35,"y":-0.92,"d":1},{"v":632,"x":-2.7,"y":-1.01,"d":1},{"v":632,"x":-3,"y":-1.02,"d":1},{"v":632,"x":-3.35,"y":-0.95},
{"v":632.1,"x":3.35,"y":0.95},{"v":632.1,"x":3,"y":1.02,"d":1},{"v":632.1,"x":2.7,"y":1.01,"d":1},{"v":632.1,"x":2.35,"y":0.92,"d":1},{"v":632.1,"x":2.05,"y":0.74,"d":1},{"v":632.1,"x":1.85,"y":0.5,"d":1},{"v":632.1,"x":1.76,"y":0.25,"d":1},{"v":632.1,"x":1.73,"y":0,"d":1},{"v":632.1,"x":1.76,"y":-0.25,"d":1},{"v":632.1,"x":1.85,"y":-0.5,"d":1},{"v":632.1,"x":2.05,"y":-0.74,"d":1},{"v":632.1,"x":2.35,"y":-0.92,"d":1},{"v":632.1,"x":2.7,"y":-1.01,"d":1},{"v":632.1,"x":3,"y":-1.02,"d":1},{"v":632.1,"x":3.35,"y":-0.95},
{"v":670,"x":-2.8,"y":0.99},{"v":670,"x":-2.55,"y":0.95,"d":1},{"v":670,"x":-2.3,"y":0.85,"d":1},{"v":670,"x":-2.08,"y":0.68,"d":1},{"v":670,"x":-1.93,"y":0.45,"d":1},{"v":670,"x":-1.85,"y":0.2,"d":1},{"v":670,"x":-1.83,"y":0,"d":1},{"v":670,"x":-1.85,"y":-0.2,"d":1},{"v":670,"x":-1.93,"y":-0.45,"d":1},{"v":670,"x":-2.08,"y":-0.68,"d":1},{"v":670,"x":-2.3,"y":-0.85,"d":1},{"v":670,"x":-2.55,"y":-0.95,"d":1},{"v":670,"x":-2.8,"y":-0.99},
{"v":670.1,"x":2.8,"y":0.99},{"v":670.1,"x":2.55,"y":0.95,"d":1},{"v":670.1,"x":2.3,"y":0.85,"d":1},{"v":670.1,"x":2.08,"y":0.68,"d":1},{"v":670.1,"x":1.93,"y":0.45,"d":1},{"v":670.1,"x":1.85,"y":0.2,"d":1},{"v":670.1,"x":1.83,"y":0,"d":1},{"v":670.1,"x":1.85,"y":-0.2,"d":1},{"v":670.1,"x":1.93,"y":-0.45,"d":1},{"v":670.1,"x":2.08,"y":-0.68,"d":1},{"v":670.1,"x":2.3,"y":-0.85,"d":1},{"v":670.1,"x":2.55,"y":-0.95,"d":1},{"v":670.1,"x":2.8,"y":-0.99},
{"v":708,"x":-2.5,"y":0.88},{"v":708,"x":-2.3,"y":0.76,"d":1},{"v":708,"x":-2.1,"y":0.58,"d":1},{"v":708,"x":-1.97,"y":0.38,"d":1},{"v":708,"x":-1.9,"y":0.15,"d":1},{"v":708,"x":-1.88,"y":0,"d":1},{"v":708,"x":-1.9,"y":-0.15,"d":1},{"v":708,"x":-1.97,"y":-0.38,"d":1},{"v":708,"x":-2.1,"y":-0.58,"d":1},{"v":708,"x":-2.3,"y":-0.76,"d":1},{"v":708,"x":-2.5,"y":-0.88},
{"v":708.1,"x":2.5,"y":0.88},{"v":708.1,"x":2.3,"y":0.76,"d":1},{"v":708.1,"x":2.1,"y":0.58,"d":1},{"v":708.1,"x":1.97,"y":0.38,"d":1},{"v":708.1,"x":1.9,"y":0.15,"d":1},{"v":708.1,"x":1.88,"y":0,"d":1},{"v":708.1,"x":1.9,"y":-0.15,"d":1},{"v":708.1,"x":1.97,"y":-0.38,"d":1},{"v":708.1,"x":2.1,"y":-0.58,"d":1},{"v":708.1,"x":2.3,"y":-0.76,"d":1},{"v":708.1,"x":2.5,"y":-0.88},
{"v":746,"x":-2.25,"y":0.66},{"v":746,"x":-2.15,"y":0.55,"d":1},{"v":746,"x":-2.03,"y":0.35,"d":1},{"v":746,"x":-1.96,"y":0.15,"d":1},{"v":746,"x":-1.94,"y":0,"d":1},{"v":746,"x":-1.96,"y":-0.15,"d":1},{"v":746,"x":-2.03,"y":-0.35,"d":1},{"v":746,"x":-2.15,"y":-0.55,"d":1},{"v":746,"x":-2.25,"y":-0.66},
{"v":746.1,"x":2.25,"y":0.66},{"v":746.1,"x":2.15,"y":0.55,"d":1},{"v":746.1,"x":2.03,"y":0.35,"d":1},{"v":746.1,"x":1.96,"y":0.15,"d":1},{"v":746.1,"x":1.94,"y":0,"d":1},{"v":746.1,"x":1.96,"y":-0.15,"d":1},{"v":746.1,"x":2.03,"y":-0.35,"d":1},{"v":746.1,"x":2.15,"y":-0.55,"d":1},{"v":746.1,"x":2.25,"y":-0.66}
],
"arrows":[
{"x":-7.6,"y":5.7,"a":315,"m":4},{"x":-6.65,"y":5.7,"a":315,"m":4},{"x":-5.7,"y":5.7,"a":343,"m":5},{"x":-4.75,"y":5.7,"a":338,"m":5},{"x":-3.8,"y":5.7,"a":0,"m":4},{"x":-2.85,"y":5.7,"a":6,"m":5},{"x":-1.9,"y":5.7,"a":45,"m":4},{"x":-0.95,"y":5.7,"a":56,"m":4},{"x":0,"y":5.7,"a":90,"m":4},{"x":0.95,"y":5.7,"a":124,"m":4},{"x":1.9,"y":5.7,"a":135,"m":4},{"x":2.85,"y":5.7,"a":174,"m":5},{"x":3.8,"y":5.7,"a":180,"m":4},{"x":4.75,"y":5.7,"a":202,"m":5},{"x":5.7,"y":5.7,"a":197,"m":5},{"x":6.65,"y":5.7,"a":225,"m":4},{"x":7.6,"y":5.7,"a":225,"m":4},
{"x":-7.6,"y":4.75,"a":287,"m":5},{"x":-6.65,"y":4.75,"a":311,"m":5},{"x":-5.7,"y":4.75,"a":321,"m":6},{"x":-4.75,"y":4.75,"a":337,"m":7},{"x":-3.8,"y":4.75,"a":0,"m":7},{"x":-2.85,"y":4.75,"a":9,"m":6},{"x":-1.9,"y":4.75,"a":54,"m":9},{"x":-0.95,"y":4.75,"a":74,"m":7},{"x":0,"y":4.75,"a":90,"m":8},{"x":0.95,"y":4.75,"a":106,"m":7},{"x":1.9,"y":4.75,"a":126,"m":9},{"x":2.85,"y":4.75,"a":171,"m":6},{"x":3.8,"y":4.75,"a":180,"m":7},{"x":4.75,"y":4.75,"a":203,"m":7},{"x":5.7,"y":4.75,"a":219,"m":6},{"x":6.65,"y":4.75,"a":229,"m":5},{"x":7.6,"y":4.75,"a":253,"m":5},
{"x":-7.6,"y":3.8,"a":309,"m":6},{"x":-6.65,"y":3.8,"a":315,"m":7},{"x":-5.7,"y":3.8,"a":319,"m":9},{"x":-4.75,"y":3.8,"a":333,"m":9},{"x":-3.8,"y":3.8,"a":0,"m":10},{"x":-2.85,"y":3.8,"a":15,"m":11},{"x":-1.9,"y":3.8,"a":41,"m":11},{"x":-0.95,"y":3.8,"a":66,"m":12},{"x":0,"y":3.8,"a":90,"m":11},{"x":0.95,"y":3.8,"a":114,"m":12},{"x":1.9,"y":3.8,"a":139,"m":11},{"x":2.85,"y":3.8,"a":165,"m":11},{"x":3.8,"y":3.8,"a":180,"m":10},{"x":4.75,"y":3.8,"a":207,"m":9},{"x":5.7,"y":3.8,"a":221,"m":9},{"x":6.65,"y":3.8,"a":225,"m":7},{"x":7.6,"y":3.8,"a":231,"m":6},
{"x":-7.6,"y":2.85,"a":286,"m":7},{"x":-6.65,"y":2.85,"a":294,"m":10},{"x":-5.7,"y":2.85,"a":315,"m":11},{"x":-4.75,"y":2.85,"a":324,"m":14},{"x":-3.8,"y":2.85,"a":352,"m":14},{"x":-2.85,"y":2.85,"a":17,"m":17},{"x":-1.9,"y":2.85,"a":40,"m":16},{"x":-0.95,"y":2.85,"a":72,"m":16},{"x":0,"y":2.85,"a":90,"m":17},{"x":0.95,"y":2.85,"a":108,"m":16},{"x":1.9,"y":2.85,"a":140,"m":16},{"x":2.85,"y":2.85,"a":163,"m":17},{"x":3.8,"y":2.85,"a":188,"m":14},{"x":4.75,"y":2.85,"a":216,"m":14},{"x":5.7,"y":2.85,"a":225,"m":11},{"x":6.65,"y":2.85,"a":246,"m":10},{"x":7.6,"y":2.85,"a":254,"m":7},
{"x":-7.6,"y":1.9,"a":281,"m":8},{"x":-6.65,"y":1.9,"a":288,"m":13},{"x":-5.7,"y":1.9,"a":304,"m":14},{"x":-4.75,"y":1.9,"a":317,"m":18},{"x":-3.8,"y":1.9,"a":344,"m":22},{"x":-2.85,"y":1.9,"a":7,"m":26},{"x":-1.9,"y":1.9,"a":47,"m":25},{"x":-0.95,"y":1.9,"a":69,"m":22},{"x":0,"y":1.9,"a":90,"m":19},{"x":0.95,"y":1.9,"a":111,"m":22},{"x":1.9,"y":1.9,"a":133,"m":25},{"x":2.85,"y":1.9,"a":173,"m":26},{"x":3.8,"y":1.9,"a":196,"m":22},{"x":4.75,"y":1.9,"a":223,"m":18},{"x":5.7,"y":1.9,"a":236,"m":14},{"x":6.65,"y":1.9,"a":252,"m":13},{"x":7.6,"y":1.9,"a":259,"m":8},
{"x":-7.6,"y":0.95,"a":270,"m":11},{"x":-6.65,"y":0.95,"a":280,"m":12},{"x":-5.7,"y":0.95,"a":289,"m":18},{"x":-4.75,"y":0.95,"a":299,"m":23},{"x":-3.8,"y":0.95,"a":320,"m":34},{"x":-1.9,"y":0.95,"a":54,"m":39},{"x":-0.95,"y":0.95,"a":77,"m":32},{"x":0,"y":0.95,"a":90,"m":29},{"x":0.95,"y":0.95,"a":103,"m":32},{"x":1.9,"y":0.95,"a":126,"m":39},{"x":3.8,"y":0.95,"a":220,"m":34},{"x":4.75,"y":0.95,"a":241,"m":23},{"x":5.7,"y":0.95,"a":251,"m":18},{"x":6.65,"y":0.95,"a":260,"m":12},{"x":7.6,"y":0.95,"a":270,"m":11},
{"x":-7.6,"y":0,"a":270,"m":8},{"x":-6.65,"y":0,"a":270,"m":13},{"x":-5.7,"y":0,"a":270,"m":16},{"x":-4.75,"y":0,"a":270,"m":25},{"x":-1.9,"y":0,"a":90,"m":62},{"x":-0.95,"y":0,"a":90,"m":37},{"x":0,"y":0,"a":90,"m":31},{"x":0.95,"y":0,"a":90,"m":37},{"x":1.9,"y":0,"a":90,"m":60},{"x":4.75,"y":0,"a":270,"m":25},{"x":5.7,"y":0,"a":270,"m":16},{"x":6.65,"y":0,"a":270,"m":11},{"x":7.6,"y":0,"a":270,"m":9},
{"x":-7.6,"y":-0.95,"a":270,"m":11},{"x":-6.65,"y":-0.95,"a":260,"m":12},{"x":-5.7,"y":-0.95,"a":251,"m":18},{"x":-4.75,"y":-0.95,"a":241,"m":23},{"x":-3.8,"y":-0.95,"a":220,"m":34},{"x":-1.9,"y":-0.95,"a":126,"m":39},{"x":-0.95,"y":-0.95,"a":103,"m":32},{"x":0,"y":-0.95,"a":90,"m":29},{"x":0.95,"y":-0.95,"a":77,"m":32},{"x":1.9,"y":-0.95,"a":54,"m":39},{"x":3.8,"y":-0.95,"a":320,"m":34},{"x":4.75,"y":-0.95,"a":299,"m":23},{"x":5.7,"y":-0.95,"a":289,"m":18},{"x":6.65,"y":-0.95,"a":280,"m":12},{"x":7.6,"y":-0.95,"a":270,"m":11},
{"x":-7.6,"y":-1.9,"a":259,"m":8},{"x":-6.65,"y":-1.9,"a":252,"m":13},{"x":-5.7,"y":-1.9,"a":236,"m":14},{"x":-4.75,"y":-1.9,"a":223,"m":18},{"x":-3.8,"y":-1.9,"a":196,"m":22},{"x":-2.85,"y":-1.9,"a":173,"m":26},{"x":-1.9,"y":-1.9,"a":133,"m":25},{"x":-0.95,"y":-1.9,"a":111,"m":22},{"x":0,"y":-1.9,"a":90,"m":19},{"x":0.95,"y":-1.9,"a":69,"m":22},{"x":1.9,"y":-1.9,"a":47,"m":25},{"x":2.85,"y":-1.9,"a":7,"m":26},{"x":3.8,"y":-1.9,"a":344,"m":22},{"x":4.75,"y":-1.9,"a":317,"m":18},{"x":5.7,"y":-1.9,"a":304,"m":14},{"x":6.65,"y":-1.9,"a":288,"m":13},{"x":7.6,"y":-1.9,"a":281,"m":8},
{"x":-7.6,"y":-2.85,"a":254,"m":7},{"x":-6.65,"y":-2.85,"a":246,"m":10},{"x":-5.7,"y":-2.85,"a":225,"m":11},{"x":-4.75,"y":-2.85,"a":216,"m":14},{"x":-3.8,"y":-2.85,"a":188,"m":14},{"x":-2.85,"y":-2.85,"a":163,"m":17},{"x":-1.9,"y":-2.85,"a":140,"m":16},{"x":-0.95,"y":-2.85,"a":108,"m":16},{"x":0,"y":-2.85,"a":90,"m":17},{"x":0.95,"y":-2.85,"a":72,"m":16},{"x":1.9,"y":-2.85,"a":40,"m":16},{"x":2.85,"y":-2.85,"a":17,"m":17},{"x":3.8,"y":-2.85,"a":352,"m":14},{"x":4.75,"y":-2.85,"a":324,"m":14},{"x":5.7,"y":-2.85,"a":315,"m":11},{"x":6.65,"y":-2.85,"a":294,"m":10},{"x":7.6,"y":-2.85,"a":286,"m":7},
{"x":-7.6,"y":-3.8,"a":231,"m":6},{"x":-6.65,"y":-3.8,"a":225,"m":7},{"x":-5.7,"y":-3.8,"a":221,"m":9},{"x":-4.75,"y":-3.8,"a":207,"m":9},{"x":-3.8,"y":-3.8,"a":180,"m":10},{"x":-2.85,"y":-3.8,"a":165,"m":11},{"x":-1.9,"y":-3.8,"a":139,"m":11},{"x":-0.95,"y":-3.8,"a":114,"m":12},{"x":0,"y":-3.8,"a":90,"m":11},{"x":0.95,"y":-3.8,"a":66,"m":12},{"x":1.9,"y":-3.8,"a":41,"m":11},{"x":2.85,"y":-3.8,"a":15,"m":11},{"x":3.8,"y":-3.8,"a":0,"m":10},{"x":4.75,"y":-3.8,"a":333,"m":9},{"x":5.7,"y":-3.8,"a":319,"m":9},{"x":6.65,"y":-3.8,"a":315,"m":7},{"x":7.6,"y":-3.8,"a":309,"m":6},
{"x":-7.6,"y":-4.75,"a":253,"m":5},{"x":-6.65,"y":-4.75,"a":229,"m":5},{"x":-5.7,"y":-4.75,"a":219,"m":6},{"x":-4.75,"y":-4.75,"a":203,"m":7},{"x":-3.8,"y":-4.75,"a":180,"m":7},{"x":-2.85,"y":-4.75,"a":171,"m":6},{"x":-1.9,"y":-4.75,"a":126,"m":9},{"x":-0.95,"y":-4.75,"a":106,"m":7},{"x":0,"y":-4.75,"a":90,"m":8},{"x":0.95,"y":-4.75,"a":74,"m":7},{"x":1.9,"y":-4.75,"a":54,"m":9},{"x":2.85,"y":-4.75,"a":9,"m":6},{"x":3.8,"y":-4.75,"a":0,"m":7},{"x":4.75,"y":-4.75,"a":337,"m":7},{"x":5.7,"y":-4.75,"a":321,"m":6},{"x":6.65,"y":-4.75,"a":311,"m":5},{"x":7.6,"y":-4.75,"a":287,"m":5},
{"x":-7.6,"y":-5.7,"a":225,"m":4},{"x":-6.65,"y":-5.7,"a":225,"m":4},{"x":-5.7,"y":-5.7,"a":197,"m":5},{"x":-4.75,"y":-5.7,"a":202,"m":5},{"x":-3.8,"y":-5.7,"a":180,"m":4},{"x":-2.85,"y":-5.7,"a":174,"m":5},{"x":-1.9,"y":-5.7,"a":135,"m":4},{"x":-0.95,"y":-5.7,"a":124,"m":4},{"x":0,"y":-5.7,"a":90,"m":4},{"x":0.95,"y":-5.7,"a":56,"m":4},{"x":1.9,"y":-5.7,"a":45,"m":4},{"x":2.85,"y":-5.7,"a":6,"m":5},{"x":3.8,"y":-5.7,"a":0,"m":4},{"x":4.75,"y":-5.7,"a":338,"m":5},{"x":5.7,"y":-5.7,"a":343,"m":5},{"x":6.65,"y":-5.7,"a":315,"m":4},{"x":7.6,"y":-5.7,"a":315,"m":4}
],
"holes":[
{"h":"L","x":-2,"y":0},{"h":"L","x":-2.06,"y":0.34},{"h":"L","x":-2.23,"y":0.64},{"h":"L","x":-2.5,"y":0.87},{"h":"L","x":-2.83,"y":0.98},{"h":"L","x":-3.17,"y":0.98},{"h":"L","x":-3.5,"y":0.87},{"h":"L","x":-3.77,"y":0.64},{"h":"L","x":-3.94,"y":0.34},{"h":"L","x":-4,"y":0},{"h":"L","x":-3.94,"y":-0.34},{"h":"L","x":-3.77,"y":-0.64},{"h":"L","x":-3.5,"y":-0.87},{"h":"L","x":-3.17,"y":-0.98},{"h":"L","x":-2.83,"y":-0.98},{"h":"L","x":-2.5,"y":-0.87},{"h":"L","x":-2.23,"y":-0.64},{"h":"L","x":-2.06,"y":-0.34},{"h":"L","x":-2,"y":0},
{"h":"R","x":4,"y":0},{"h":"R","x":3.94,"y":0.34},{"h":"R","x":3.77,"y":0.64},{"h":"R","x":3.5,"y":0.87},{"h":"R","x":3.17,"y":0.98},{"h":"R","x":2.83,"y":0.98},{"h":"R","x":2.5,"y":0.87},{"h":"R","x":2.23,"y":0.64},{"h":"R","x":2.06,"y":0.34},{"h":"R","x":2,"y":0},{"h":"R","x":2.06,"y":-0.34},{"h":"R","x":2.23,"y":-0.64},{"h":"R","x":2.5,"y":-0.87},{"h":"R","x":2.83,"y":-0.98},{"h":"R","x":3.17,"y":-0.98},{"h":"R","x":3.5,"y":-0.87},{"h":"R","x":3.77,"y":-0.64},{"h":"R","x":3.94,"y":-0.34},{"h":"R","x":4,"y":0}
],
"ticks":[
{"x":-6,"y":6,"x2":-6,"y2":5.85},{"x":-4,"y":6,"x2":-4,"y2":5.85},{"x":-2,"y":6,"x2":-2,"y2":5.85},{"x":0,"y":6,"x2":0,"y2":5.85},{"x":2,"y":6,"x2":2,"y2":5.85},{"x":4,"y":6,"x2":4,"y2":5.85},{"x":6,"y":6,"x2":6,"y2":5.85},
{"x":8,"y":4,"x2":7.846,"y2":4},{"x":8,"y":2,"x2":7.846,"y2":2},{"x":8,"y":0,"x2":7.846,"y2":0},{"x":8,"y":-2,"x2":7.846,"y2":-2},{"x":8,"y":-4,"x2":7.846,"y2":-4},
{"x":8.62,"y":-4.5,"x2":8.755,"y2":-4.5},{"x":9.43,"y":-4.5,"x2":9.295,"y2":-4.5},{"x":8.62,"y":-2.99,"x2":8.755,"y2":-2.99},{"x":9.43,"y":-2.99,"x2":9.295,"y2":-2.99},{"x":8.62,"y":-1.48,"x2":8.755,"y2":-1.48},{"x":9.43,"y":-1.48,"x2":9.295,"y2":-1.48},{"x":8.62,"y":0.03,"x2":8.755,"y2":0.03},{"x":9.43,"y":0.03,"x2":9.295,"y2":0.03},{"x":8.62,"y":1.55,"x2":8.755,"y2":1.55},{"x":9.43,"y":1.55,"x2":9.295,"y2":1.55},{"x":8.62,"y":3.06,"x2":8.755,"y2":3.06},{"x":9.43,"y":3.06,"x2":9.295,"y2":3.06},{"x":8.62,"y":4.58,"x2":8.755,"y2":4.58},{"x":9.43,"y":4.58,"x2":9.295,"y2":4.58}
]
},
"layer":[
{"data":{"name":"contours"},"mark":{"type":"line","interpolate":"cardinal","order":false,"strokeWidth":1,"clip":true},
"encoding":{
"x":{"field":"x","type":"quantitative","scale":{"domain":[-8,8],"nice":false,"zero":false},"axis":{"values":[-8,-6,-4,-2,0,2,4,6,8],"format":"d","labelExpr":"replace(datum.label,'\u2212','-')"}},
"y":{"field":"y","type":"quantitative","scale":{"domain":[-6,6],"nice":false,"zero":false},"axis":{"values":[-6,-4,-2,0,2,4,6],"format":"d","labelExpr":"replace(datum.label,'\u2212','-')"}},
"stroke":{"field":"v","type":"quantitative","scale":{"domain":[0,794.01],"range":["#00ffff","#ff00ff"],"interpolate":"rgb"},"legend":null}}},
{"data":{"name":"contours"},"transform":[{"filter":"datum.d"}],"mark":{"type":"point","filled":true,"size":22,"opacity":1,"clip":true},
"encoding":{
"x":{"field":"x","type":"quantitative"},
"y":{"field":"y","type":"quantitative"},
"fill":{"field":"v","type":"quantitative","scale":{"domain":[0,794],"range":["#00ffff","#ff00ff"],"interpolate":"rgb"},"legend":{"type":"gradient","orient":"none","legendX":861,"legendY":0,"direction":"vertical","gradientLength":635,"gradientThickness":42,"gradientStrokeColor":"#111111","gradientStrokeWidth":1,"values":[100,200,300,400,500,600,700],"format":"d","labelFont":"Liberation Sans","labelFontSize":24.5,"labelColor":"black","labelOffset":5,"labelOverlap":false,"title":null}}}},
{"data":{"name":"arrows"},"mark":{"type":"point","shape":"M0,0L0,-1M-.085,-.7L0,-1L.085,-.7","filled":false,"stroke":"#ff0000","strokeWidth":1.15,"opacity":1},
"encoding":{
"x":{"field":"x","type":"quantitative"},"y":{"field":"y","type":"quantitative"},
"angle":{"field":"a","type":"quantitative","scale":null},
"size":{"field":"m","type":"quantitative","scale":{"type":"pow","exponent":2,"domain":[0,100],"range":[0,40000]},"legend":null}}},
{"data":{"name":"holes"},"mark":{"type":"line","order":false,"color":"#111111","strokeWidth":1},
"encoding":{"x":{"field":"x","type":"quantitative"},"y":{"field":"y","type":"quantitative"},"detail":{"field":"h"}}},
{"data":{"values":[{"x":-3,"y":0,"x2":-3,"y2":-4.31},{"x":3,"y":-0.09,"x2":3,"y2":-4.33}]},"mark":{"type":"rule","color":"#111111","strokeWidth":1,"strokeDash":[45,16]},
"encoding":{"x":{"field":"x","type":"quantitative"},"y":{"field":"y","type":"quantitative"},"x2":{"field":"x2"},"y2":{"field":"y2"}}},
{"data":{"values":[{"x":-3,"y":-4.31,"x2":3,"y2":-4.31},{"x":-3,"y":0,"x2":-2.25,"y2":0.58}]},"mark":{"type":"rule","color":"#111111","strokeWidth":1},
"encoding":{"x":{"field":"x","type":"quantitative"},"y":{"field":"y","type":"quantitative"},"x2":{"field":"x2"},"y2":{"field":"y2"}}},
{"data":{"name":"ticks"},"mark":{"type":"rule","color":"#222222","strokeWidth":1,"clip":false},
"encoding":{"x":{"field":"x","type":"quantitative"},"y":{"field":"y","type":"quantitative"},"x2":{"field":"x2"},"y2":{"field":"y2"}}},
{"data":{"values":[{"x":-2.23,"y":0.6}]},"mark":{"type":"point","shape":"M0,0L-1.1,.35L-.62,.55L-.65,1Z","filled":true,"color":"black","size":1600,"opacity":1},
"encoding":{"x":{"field":"x","type":"quantitative"},"y":{"field":"y","type":"quantitative"}}},
{"data":{"values":[{"x":-2.87,"y":0.45,"t":"R"},{"x":-0.26,"y":-4.07,"t":"D"}]},"mark":{"type":"text","font":"Liberation Sans","fontSize":23,"color":"black"},
"encoding":{"x":{"field":"x","type":"quantitative"},"y":{"field":"y","type":"quantitative"},"text":{"field":"t"}}},
{"data":{"values":[{"x":-2.23,"y":0,"t":"M"},{"x":2.25,"y":0,"t":"M'"}]},"mark":{"type":"text","font":"Liberation Sans","fontSize":18,"color":"black"},
"encoding":{"x":{"field":"x","type":"quantitative"},"y":{"field":"y","type":"quantitative"},"text":{"field":"t"}}}
]}
